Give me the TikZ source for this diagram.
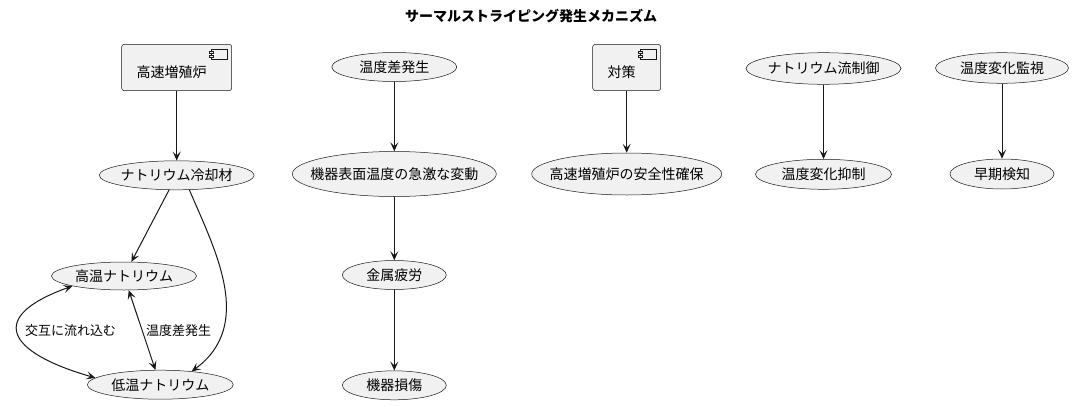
\documentclass[tikz,border=0pt]{standalone}
\usepackage{fontspec}
\setmainfont{Noto Sans CJK JP}
\usetikzlibrary{arrows.meta,calc,shapes.geometric}
\definecolor{bg}{HTML}{F1F1F1}
\definecolor{ln}{HTML}{181818}
\newcommand\ut[1]{\makebox[0pt]{#1}}
\newcommand\compicon[1]{%
  \draw[draw=ln, line width=0.5pt, fill=bg] ($(#1.north east)+(-20.7,5)$) rectangle ($(#1.north east)+(-5,15)$);
  \draw[draw=ln, line width=0.5pt, fill=bg] ($(#1.north east)+(-22.6,7)$) rectangle ($(#1.north east)+(-18.4,9)$);
  \draw[draw=ln, line width=0.5pt, fill=bg] ($(#1.north east)+(-22.6,11)$) rectangle ($(#1.north east)+(-18.4,13)$);
}
\begin{document}
\begin{tikzpicture}[x=1pt,y=-1pt,
  every node/.style={font=\fontsize{14}{16}\selectfont, text=black},
  uc/.style={ellipse, draw=ln, line width=0.5pt, fill=bg, inner sep=0pt},
  comp/.style={rectangle, rounded corners=2.5pt, draw=ln, line width=0.5pt, fill=bg,
    inner sep=0pt, minimum height=46.3pt, text height=22pt, text depth=2pt},
  arr/.style={draw=ln, line width=1pt, -{Stealth[length=9pt,width=8pt,inset=4pt]}},
  arrtwo/.style={draw=ln, line width=1pt, {Stealth[length=9pt,width=8pt,inset=4pt]}-{Stealth[length=9pt,width=8pt,inset=4pt]}},
  lbl/.style={font=\fontsize{13}{15}\selectfont}]
\fill[white] (0,0) rectangle (1074,407);
\useasboundingbox (0,0) rectangle (1074,407);

\node[font=\fontsize{14}{16}\selectfont\bfseries] (title) at (531,16) {サーマルストライピング発生メカニズム};

% column 1
\node[comp, minimum width=110pt] (reactor) at (176.7,67.5) {高速増殖炉\hspace*{10pt}};
\compicon{reactor}
\node[uc, minimum width=155pt, minimum height=29pt] (cool) at (176.7,175.3) {\ut{ナトリウム冷却材}};
\node[uc, minimum width=145pt, minimum height=28pt] (hot) at (124,276) {\ut{高温ナトリウム}};
\node[uc, minimum width=146pt, minimum height=29pt] (low) at (160.3,384.7) {\ut{低温ナトリウム}};

% column 2
\node[uc, minimum width=125pt, minimum height=29pt] (diff) at (394.3,67) {\ut{温度差発生}};
\node[uc, minimum width=204pt, minimum height=45pt] (surf) at (394.3,174) {\ut{機器表面温度の急激な変動}};
\node[uc, minimum width=104pt, minimum height=29pt] (fatigue) at (394.3,275) {\ut{金属疲労}};
\node[uc, minimum width=104pt, minimum height=29pt] (damage) at (394.3,385.3) {\ut{機器損傷}};

% column 3
\node[comp, minimum width=68pt] (measure) at (626.7,67.5) {対策\hspace*{10pt}};
\compicon{measure}
\node[uc, minimum width=190pt, minimum height=42pt] (safety) at (626.7,174) {\ut{高速増殖炉の安全性確保}};

% column 4
\node[uc, minimum width=155pt, minimum height=31.6pt] (flowctl) at (823.5,68.5) {\ut{ナトリウム流制御}};
\node[uc, minimum width=136pt, minimum height=30pt] (suppress) at (823.5,174.3) {\ut{温度変化抑制}};

% column 5
\node[uc, minimum width=133pt, minimum height=30.6pt] (monitor) at (1002,68) {\ut{温度変化監視}};
\node[uc, minimum width=104pt, minimum height=30pt] (detect) at (1002,174) {\ut{早期検知}};

% edges
\draw[arr] (reactor) -- (cool);
\draw[arr] (diff) -- (surf);
\draw[arr] (surf) -- (fatigue);
\draw[arr] (fatigue) -- (damage);
\draw[arr] (measure) -- (safety);
\draw[arr] (flowctl) -- (suppress);
\draw[arr] (monitor) -- (detect);
\draw[arr] (cool) -- (hot);
\draw[arr] (cool.-49) .. controls (215,250) and (255,325) .. (low.23);
\draw[arrtwo] (hot.191) .. controls (-13,316.5) and (5.7,352) .. (low.174);
\draw[arrtwo] (hot) -- (low);

\node[lbl] (lblalt) at (70.5,330.7) {交互に流れ込む};
\node[lbl] (lbldiff) at (178.7,330.7) {温度差発生};
\end{tikzpicture}
\end{document}
